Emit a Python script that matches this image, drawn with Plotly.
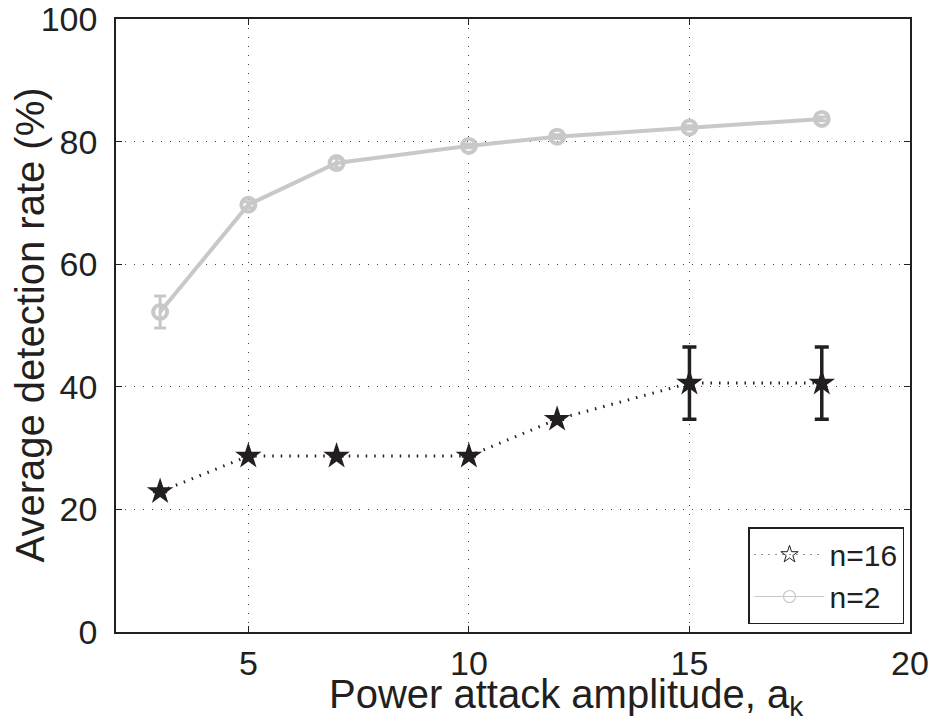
import plotly.graph_objects as go

# Attack amplitudes
amplitude = [3, 5, 7, 10, 12, 15, 18]

# n = 2 detector
rate_n2 = [52.2, 69.7, 76.5, 79.3, 80.8, 82.3, 83.7]
err_n2 = [2.6, 0.5, 0.8, 0.3, 0.3, 0.3, 0.3]

# n = 16 detector
rate_n16 = [22.9, 28.7, 28.7, 28.7, 34.7, 40.6, 40.6]
err_n16 = [0, 0, 0, 0, 0, 5.9, 5.9]

x_ticks = [5, 10, 15, 20]
y_ticks = [0, 20, 40, 60, 80, 100]

GRAY = "#c8c8c8"
INK = "#231f20"
FONT = "Liberation Sans, Arial, sans-serif"
TICK_SIZE = 34

W, H = 935, 721
L, R, T, B = 116, 25, 19, 89

fig = go.Figure()

fig.add_trace(go.Scatter(
    x=amplitude, y=rate_n2, mode="lines+markers", showlegend=False,
    line=dict(color=GRAY, width=4),
    marker=dict(symbol="circle-open", size=14, color=GRAY, line=dict(width=4, color=GRAY)),
    error_y=dict(type="data", array=err_n2, color=GRAY, thickness=3, width=6),
))

fig.add_trace(go.Scatter(
    x=amplitude, y=rate_n16, mode="lines+markers", showlegend=False,
    line=dict(color=INK, width=3, dash="1.5px,7px"),
    marker=dict(symbol="star", size=20, color=INK, line=dict(width=0)),
    error_y=dict(type="data", array=err_n16, color=INK, thickness=3.5, width=7),
))

# legend entries
fig.add_trace(go.Scatter(
    x=[None], y=[None], mode="lines+markers", name="n=16",
    line=dict(color=INK, width=1, dash="1px,6px"),
    marker=dict(symbol="star-open", size=13, color=INK, line=dict(width=1)),
))
fig.add_trace(go.Scatter(
    x=[None], y=[None], mode="lines+markers", name="n=2",
    line=dict(color=GRAY, width=1.2),
    marker=dict(symbol="circle-open", size=12, color=GRAY, line=dict(width=1.2)),
))

axis_common = dict(
    showline=True, linecolor=INK, linewidth=1.5, mirror="ticks",
    ticks="inside", ticklen=6, tickcolor=INK, tickwidth=1,
    showgrid=True, gridcolor="#444444", griddash="1px,8px", gridwidth=1,
    zeroline=False, tickfont=dict(family=FONT, size=TICK_SIZE, color=INK),
    ticklabeloverflow="allow", automargin=False,
)

fig.update_xaxes(range=[2, 20], tickvals=x_ticks, **axis_common)
fig.update_yaxes(range=[0, 100], tickvals=y_ticks, ticklabelstandoff=10, **axis_common)

pw = W - L - R
ph = H - T - B
fig.add_annotation(
    text="Power attack amplitude, a<sub>k</sub>", xref="paper", yref="paper",
    x=(566 - L) / pw, y=-(697 - (H - B)) / ph, xanchor="center", yanchor="middle",
    showarrow=False, font=dict(family=FONT, size=40, color=INK),
)
fig.add_annotation(
    text="Average detection rate (%)", xref="paper", yref="paper",
    x=-(L - 29) / pw, y=0.5, xanchor="center", yanchor="middle", textangle=-90,
    showarrow=False, font=dict(family=FONT, size=40, color=INK),
)

fig.update_layout(
    width=W, height=H,
    margin=dict(l=L, r=R, t=T, b=B, autoexpand=False),
    plot_bgcolor="white", paper_bgcolor="white",
    font=dict(family=FONT, color=INK),
    legend=dict(
        x=(904 - L) / pw, y=(H - B - 624) / ph, xanchor="right", yanchor="bottom",
        bordercolor=INK, borderwidth=1.5, bgcolor="white",
        font=dict(family=FONT, size=30, color=INK),
        itemwidth=70, tracegroupgap=0,
    ),
)

fig.write_html("out.html")
